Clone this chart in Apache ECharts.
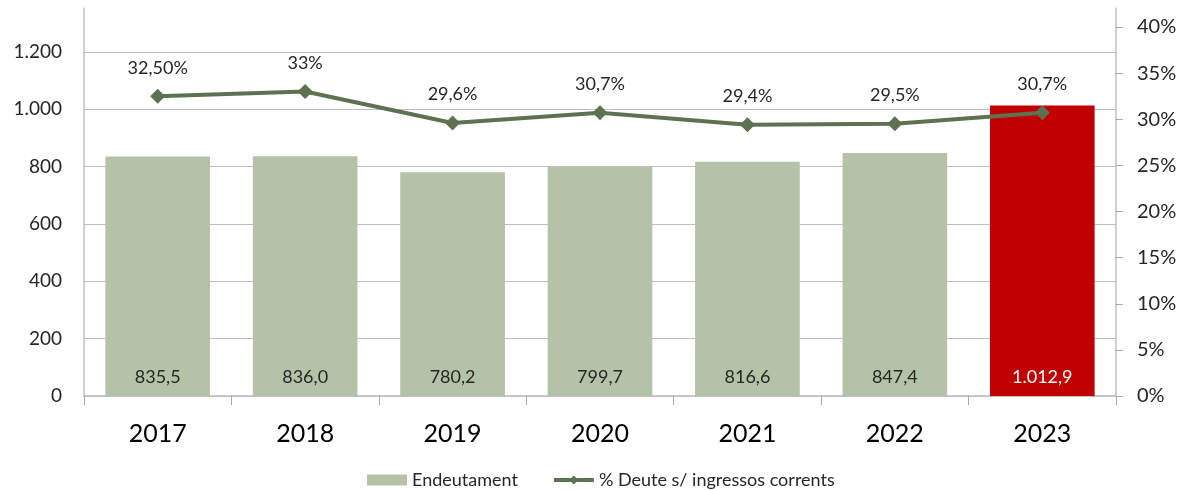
<!DOCTYPE html>
<html>
<head>
<meta charset="utf-8">
<script src="https://cdn.jsdelivr.net/npm/echarts@6/dist/echarts.min.js"></script>
<style>
  html, body { margin: 0; padding: 0; background: #fff; }
  #main { width: 1184px; height: 490px; }
</style>
</head>
<body>
<div id="main"></div>
<script>
// dades
var anys = ['2017', '2018', '2019', '2020', '2021', '2022', '2023'];
var endeutament = [835.5, 836.0, 780.2, 799.7, 816.6, 847.4, 1012.9];
var deute = [32.5, 33, 29.6, 30.7, 29.4, 29.5, 30.7];
var deuteEtiquetes = ['32,50%', '33%', '29,6%', '30,7%', '29,4%', '29,5%', '30,7%'];
var ticksEsq = [0, 200, 400, 600, 800, 1000, 1200];
var ticksDreta = [0, 5, 10, 15, 20, 25, 30, 35, 40];

var font = 'Lato';
var verd = '#b4c3a7';
var vermell = '#c00000';
var linia = '#5e7150';

function fmt(v, dec) {
    var s = v.toFixed(dec).split('.');
    var ent = s[0].replace(/\B(?=(\d{3})+(?!\d))/g, '.');
    return dec > 0 ? ent + ',' + s[1] : ent;
}

var myChart = echarts.init(document.getElementById('main'));

myChart.setOption({
    animation: false,
    textStyle: { fontFamily: font, color: '#262626' },
    grid: { left: 84, right: 68, top: 8, bottom: 94 },
    legend: {
        top: 466,
        left: 362,
        itemGap: 34,
        itemWidth: 40,
        itemHeight: 11,
        textStyle: { fontFamily: font, fontSize: 18, color: '#262626' },
        data: [
            { name: 'Endeutament', icon: 'rect', itemStyle: { color: verd } },
            { name: '% Deute s/ ingressos corrents', lineStyle: { width: 4, color: linia } }
        ]
    },
    xAxis: {
        type: 'category',
        data: anys,
        boundaryGap: true,
        axisLine: { lineStyle: { color: '#bfbfbf', width: 1.5 } },
        axisTick: { show: true, length: 9, lineStyle: { color: '#a6a6a6' } },
        axisLabel: { fontSize: 25, color: '#000', margin: 25, fontFamily: font }
    },
    yAxis: [
        {
            type: 'value',
            min: 0,
            max: 1353,
            interval: 200,
            axisLine: { show: true, lineStyle: { color: '#bfbfbf', width: 1.5 } },
            axisTick: { show: false },
            axisLabel: {
                fontSize: 19, color: '#262626', margin: 22, fontFamily: font,
                showMaxLabel: false,
                formatter: function (v) { return ticksEsq.indexOf(v) >= 0 ? fmt(v, 0) : ''; }
            },
            splitLine: { show: true, showMaxLine: false, lineStyle: { color: '#bfbfbf', width: 1 } }
        },
        {
            type: 'value',
            min: 0,
            max: 42.06,
            interval: 5,
            position: 'right',
            axisLine: { show: true, lineStyle: { color: '#bfbfbf', width: 1.5 } },
            axisTick: { show: true, inside: false, length: 7, lineStyle: { color: '#a6a6a6' }, customValues: ticksDreta },
            axisLabel: {
                fontSize: 20, color: '#262626', margin: 21, fontFamily: font,
                customValues: ticksDreta,
                formatter: function (v) { return v + '%'; }
            },
            splitLine: { show: false }
        }
    ],
    series: [
        {
            name: 'Endeutament',
            type: 'bar',
            yAxisIndex: 0,
            barWidth: '71%',
            data: endeutament.map(function (v, i) {
                return {
                    value: v,
                    itemStyle: { color: i === endeutament.length - 1 ? vermell : verd },
                    label: { color: i === endeutament.length - 1 ? '#fff' : '#262626' }
                };
            }),
            itemStyle: { color: verd },
            label: {
                show: true,
                position: 'insideBottom',
                distance: 10,
                fontSize: 18,
                fontFamily: font,
                formatter: function (p) { return fmt(p.value, 1); }
            },
            z: 1
        },
        {
            name: '% Deute s/ ingressos corrents',
            type: 'line',
            yAxisIndex: 1,
            data: deute,
            symbol: 'diamond',
            symbolSize: 15,
            showAllSymbol: true,
            lineStyle: { color: linia, width: 4 },
            itemStyle: { color: linia },
            label: {
                show: true,
                position: 'top',
                distance: 12,
                fontSize: 18,
                fontFamily: font,
                color: '#262626',
                formatter: function (p) { return deuteEtiquetes[p.dataIndex]; }
            },
            z: 3
        }
    ]
});
</script>
</body>
</html>
